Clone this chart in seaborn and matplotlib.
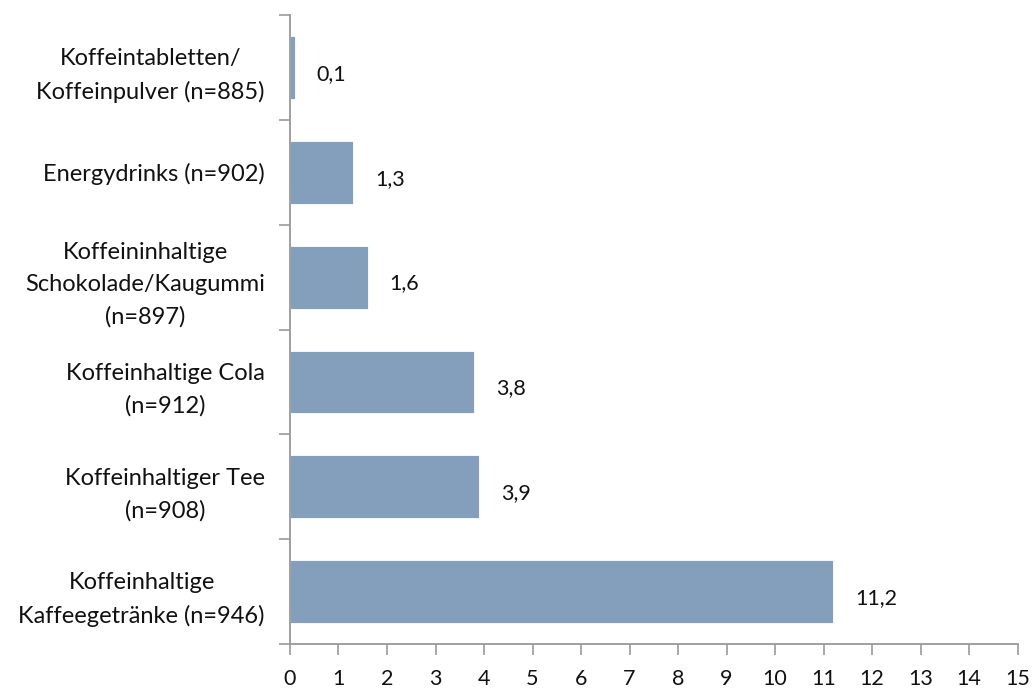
import matplotlib
matplotlib.use("Agg")
import matplotlib.pyplot as plt
import seaborn as sns
import pandas as pd
import numpy as np

categories = [
    "Koffeintabletten/\nKoffeinpulver (n=885)",
    "Energydrinks (n=902)",
    "Koffeininhaltige\nSchokolade/Kaugummi\n(n=897)",
    "Koffeinhaltige Cola\n(n=912)",
    "Koffeinhaltiger Tee\n(n=908)",
    "Koffeinhaltige\nKaffeegetränke (n=946)",
]
values = [0.1, 1.3, 1.6, 3.8, 3.9, 11.2]
value_labels = ["0,1", "1,3", "1,6", "3,8", "3,9", "11,2"]
xticks = list(range(0, 16))

sns.set_theme(style="white")
plt.rcParams['font.family'] = ['Lato', 'DejaVu Sans']

df = pd.DataFrame({"cat": categories, "val": values})

fig = plt.figure(figsize=(10.32, 6.93), dpi=100)
ax = fig.add_axes([0.281, 0.0707, 0.705, 0.9073])

sns.barplot(data=df, y="cat", x="val", orient="h", color="#849FBC",
            saturation=1, width=0.6, ax=ax, edgecolor="white", linewidth=0.6)

ax.set_xlim(0, 15)
ax.set_ylim(5.5, -0.5)
ax.set_xlabel("")
ax.set_ylabel("")
ax.set_xticks(xticks)
ax.set_xticklabels([str(t) for t in xticks], fontsize=15.5, color="#111111")

ax.set_yticks(range(len(categories)))
ax.set_yticklabels(categories, fontsize=17, color="#111111")
for lab in ax.get_yticklabels():
    lab.set_multialignment("center")
    lab.set_linespacing(1.65)
ax.set_yticks(np.arange(-0.5, len(categories), 1.0), minor=True)
ax.tick_params(axis="y", which="major", left=True, length=0, pad=18)
ax.tick_params(axis="y", which="minor", left=True, length=8, width=1.2,
               color="#999999", direction="out")
ax.tick_params(axis="x", which="major", bottom=True, length=8, width=1.2,
               color="#999999", direction="out", pad=10)

for s in ["top", "right"]:
    ax.spines[s].set_visible(False)
for s in ["left", "bottom"]:
    ax.spines[s].set_color("#999999")
    ax.spines[s].set_linewidth(1.3)

for i, (v, lab) in enumerate(zip(values, value_labels)):
    ax.text(v + 0.45, i + 0.06, lab, va="center", ha="left", fontsize=15.5, color="#111111")

fig.savefig("out.png", dpi=100)
